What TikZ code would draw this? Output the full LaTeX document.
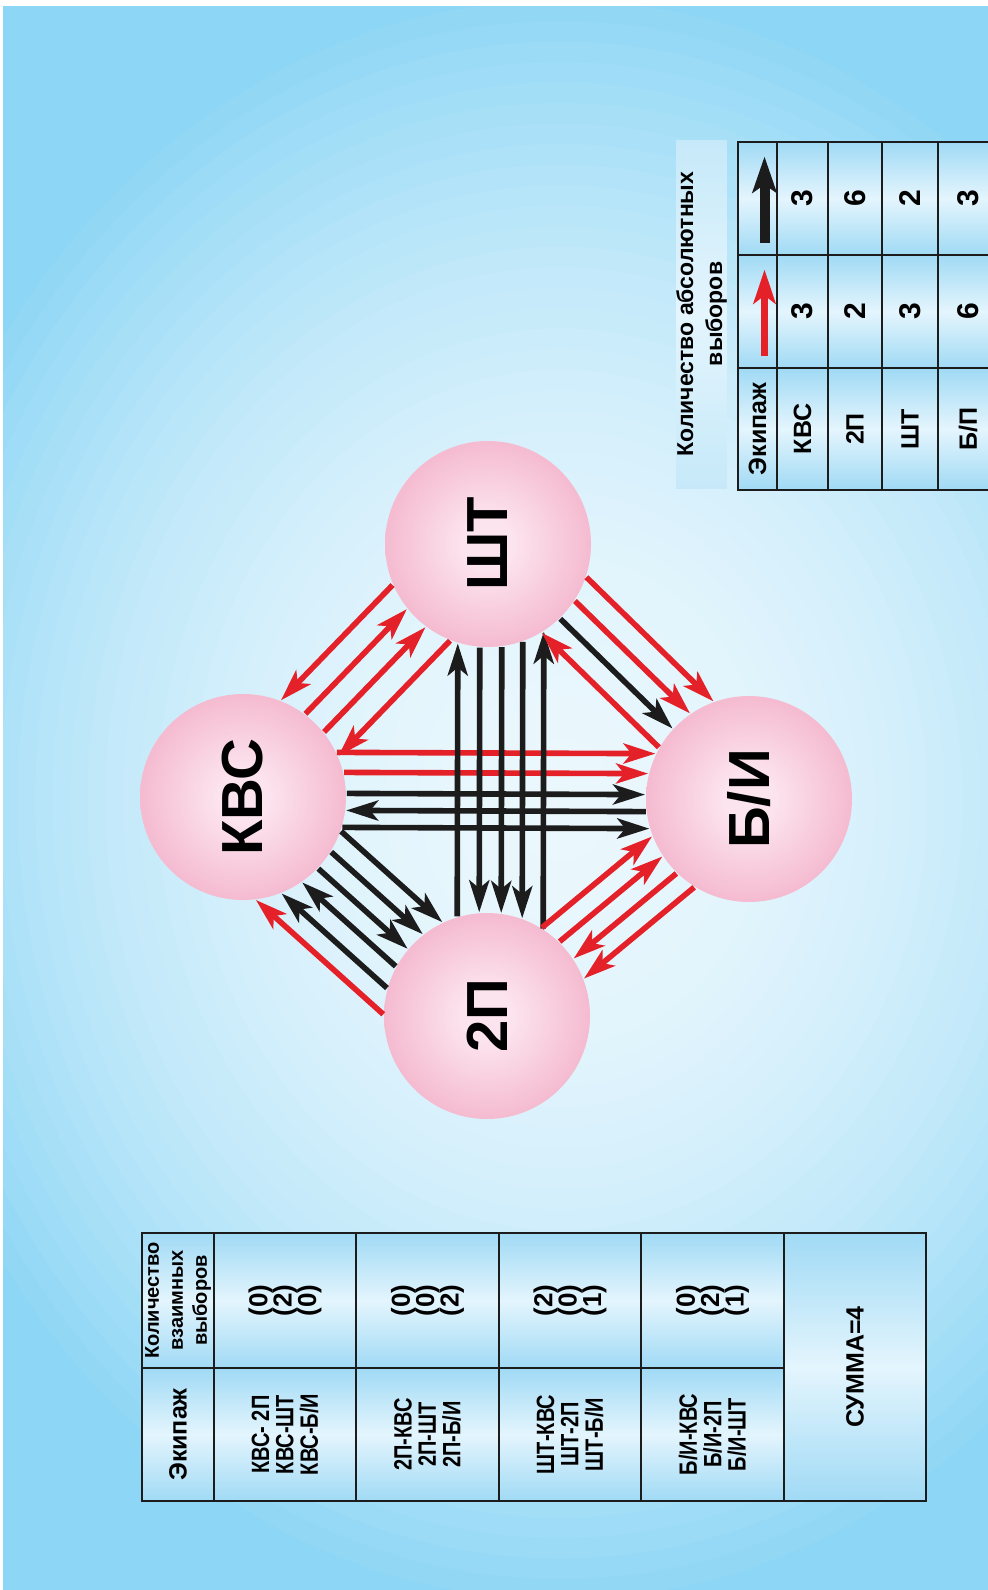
\documentclass[tikz,border=0pt]{standalone}
\usepackage{fontspec}
\setmainfont{Liberation Sans}
\newfontfamily\narrowfont{Liberation Sans}[FakeStretch=0.8]
\usetikzlibrary{arrows.meta, calc}

\definecolor{bgout}{HTML}{8DD6F5}
\definecolor{bgin}{HTML}{EAF7FD}
\definecolor{ballin}{HTML}{FCE4EE}
\definecolor{ballout}{HTML}{F1A5C0}
\definecolor{cellblue}{HTML}{A0DAF5}
\definecolor{cellwhite}{HTML}{E4F5FD}
\definecolor{linkred}{HTML}{E42128}
\definecolor{linkblack}{HTML}{1C1C1C}

\pgfdeclareradialshading{ballglow}{\pgfpoint{0bp}{0bp}}{color(0bp)=(ballin); color(6bp)=(ballin); color(35bp)=(ballout); color(50bp)=(ballout)}

\tikzset{
  ball/.style={circle, inner sep=0pt, minimum size=103pt, shade, shading=ballglow,
    rotate=90, font=\fontsize{29}{29}\selectfont\bfseries},
  link/.style={line width=2.8pt},
  fwd/.style={-{Stealth[length=16pt, width=10pt, inset=4pt]}},
  bwd/.style={{Stealth[length=16pt, width=10pt, inset=4pt]}-},
  cell/.style={draw=linkblack, line width=1.3pt, rotate=90, inner sep=1pt, align=center,
    top color=cellblue, bottom color=cellblue, middle color=cellwhite},
  countfont/.style={font=\fontsize{10}{12}\selectfont\bfseries},
  pairfont/.style={font=\narrowfont\fontsize{12.5}{12.2}\selectfont\bfseries},
  numfont/.style={font=\fontsize{13}{12.2}\selectfont\bfseries},
  namefont/.style={font=\fontsize{12.5}{14}\selectfont\bfseries},
  digitfont/.style={font=\fontsize{15}{15}\selectfont\bfseries}
}

% one choice arrow between two crew balls, #3 = offset from the centre line (px)
\newcommand{\crewlink}[5]{%
  \pgfmathsetmacro{\lnkS}{(sqrt(10609-(#3)*(#3))+1)/2}%
  \pgfmathsetmacro{\lnkD}{(#3)/2}%
  \path ($(#1)!\lnkS pt!(#2)$) coordinate (p1) ($(#2)!\lnkS pt!(#1)$) coordinate (p2);%
  \draw[link, draw=#4, #5] ($(p1)!\lnkD pt!90:(#2)$) -- ($(p2)!\lnkD pt!-90:(#1)$);%
}

\begin{document}
\begin{tikzpicture}[x=0.5pt, y=-0.5pt]
  \useasboundingbox (0,0) rectangle (988,1590);
  \fill[white] (0,0) rectangle (988,1590);
  % backdrop glow, in rings
  \begin{scope}
    \clip (3,6) rectangle (988,1590);
    \fill[bgout] (3,6) rectangle (988,1590);
    \foreach \k in {0,...,39}{
      \pgfmathsetmacro{\rr}{1-\k/40}
      \pgfmathsetmacro{\pc}{100*(1-\rr*\rr)}
      \fill[bgin!\pc!bgout] (560,800) ellipse [x radius=700*\rr, y radius=820*\rr];
    }
  \end{scope}

  % crew members
  \node[ball] (kvs) at (243,797) {КВС};
  \node[ball] (sht) at (488,544) {ШТ};
  \node[ball] (bi)  at (749,799) {Б/И};
  \node[ball] (dp)  at (487,1016) {2П};

  % choices between members
  \foreach \off/\col/\tip in {40/linkred/bwd, 13/linkred/fwd, -13/linkred/fwd, -40/linkred/bwd}
    {\crewlink{kvs}{sht}{\off}{\col}{\tip}}
  \foreach \off/\col/\tip in {45/linkred/fwd, 25/linkred/fwd, 4/linkblack/fwd, -13/linkblack/bwd, -30/linkblack/fwd}
    {\crewlink{kvs}{bi}{\off}{\col}{\tip}}
  \foreach \off/\col/\tip in {-30/linkblack/bwd, -8/linkblack/fwd, 14/linkblack/fwd, 35/linkblack/fwd, 56/linkblack/bwd}
    {\crewlink{sht}{dp}{\off}{\col}{\tip}}
  \foreach \off/\col/\tip in {-68/linkred/bwd, -46/linkblack/bwd, -24/linkblack/bwd, -3/linkblack/fwd, 18/linkblack/fwd, 40/linkblack/fwd}
    {\crewlink{kvs}{dp}{\off}{\col}{\tip}}
  \foreach \off/\col/\tip in {45/linkred/fwd, 20/linkred/fwd, -3/linkblack/fwd, -26/linkred/bwd}
    {\crewlink{sht}{bi}{\off}{\col}{\tip}}
  \foreach \off/\col/\tip in {33/linkred/fwd, 11/linkred/fwd, -11/linkred/bwd, -33/linkred/bwd}
    {\crewlink{dp}{bi}{\off}{\col}{\tip}}

  % mutual choices table
  \node[cell, countfont, minimum width=67.5pt, minimum height=36pt] (lhcount) at (178,1300.5) {Количество\\взаимных\\выборов};
  \node[cell, namefont, minimum width=66.5pt, minimum height=36pt] (lhcrew) at (178,1434.5) {Экипаж};
  \node[cell, numfont, minimum width=67.5pt, minimum height=71pt] (lkvsn) at (285,1300.5) {(0)\\(2)\\(0)};
  \node[cell, pairfont, minimum width=66.5pt, minimum height=71pt] (lkvs) at (285,1434.5) {КВС- 2П\\КВС-ШТ\\КВС-Б/И};
  \node[cell, numfont, minimum width=67.5pt, minimum height=71.5pt] (ldpn) at (427.5,1300.5) {(0)\\(0)\\(2)};
  \node[cell, pairfont, minimum width=66.5pt, minimum height=71.5pt] (ldp) at (427.5,1434.5) {2П-КВС\\2П-ШТ\\2П-Б/И};
  \node[cell, numfont, minimum width=67.5pt, minimum height=71pt] (lshtn) at (570,1300.5) {(2)\\(0)\\(1)};
  \node[cell, pairfont, minimum width=66.5pt, minimum height=71pt] (lsht) at (570,1434.5) {ШТ-КВС\\ШТ-2П\\ШТ-Б/И};
  \node[cell, numfont, minimum width=67.5pt, minimum height=71.5pt] (lbin) at (712.5,1300.5) {(0)\\(2)\\(1)};
  \node[cell, pairfont, minimum width=66.5pt, minimum height=71.5pt] (lbi) at (712.5,1434.5) {Б/И-КВС\\Б/И-2П\\Б/И-ШТ};
  \node[cell, namefont, minimum width=134pt, minimum height=71pt] (lsum) at (855,1367) {СУММА=4};

  % absolute choices table
  \node[rotate=90, align=center, inner sep=0pt, font=\fontsize{11.5}{14.5}\selectfont\bfseries,
    minimum width=174pt, minimum height=24pt,
    top color=cellblue!60, bottom color=cellblue!60, middle color=cellwhite] (abshead) at (701.5,314)
    {Количество абсолютных\\выборов};
  \node[cell, namefont, minimum width=61pt, minimum height=19.5pt] (rhcrew) at (757.5,429) {Экипаж};
  \node[cell, minimum width=56.5pt, minimum height=19.5pt] (rhred) at (757.5,311.5) {};
  \node[cell, minimum width=56.5pt, minimum height=19.5pt] (rhblack) at (757.5,198.5) {};
  \draw[draw=linkred, line width=3.5pt, -{Stealth[length=17pt, width=11pt, inset=4pt]}]
    ($(rhred)+(7,44)$) -- ($(rhred)+(7,-42)$);
  \draw[draw=linkblack, line width=5pt, -{Stealth[length=18pt, width=12pt, inset=4pt]}]
    ($(rhblack)+(7,44)$) -- ($(rhblack)+(7,-42)$);
  \foreach \x/\h/\nm/\nr/\nb [count=\i] in {802.5/25.5/КВС/3/3, 855/27/2П/2/6, 910/28/ШТ/3/2, 968/30/{Б/П}/6/3}{
    \node[cell, namefont, minimum width=61pt, minimum height=\h pt] (rname\i) at (\x,429) {\nm};
    \node[cell, digitfont, minimum width=56.5pt, minimum height=\h pt] (rred\i) at (\x,311.5) {\nr};
    \node[cell, digitfont, minimum width=56.5pt, minimum height=\h pt] (rblack\i) at (\x,198.5) {\nb};
  }
\end{tikzpicture}
\end{document}
